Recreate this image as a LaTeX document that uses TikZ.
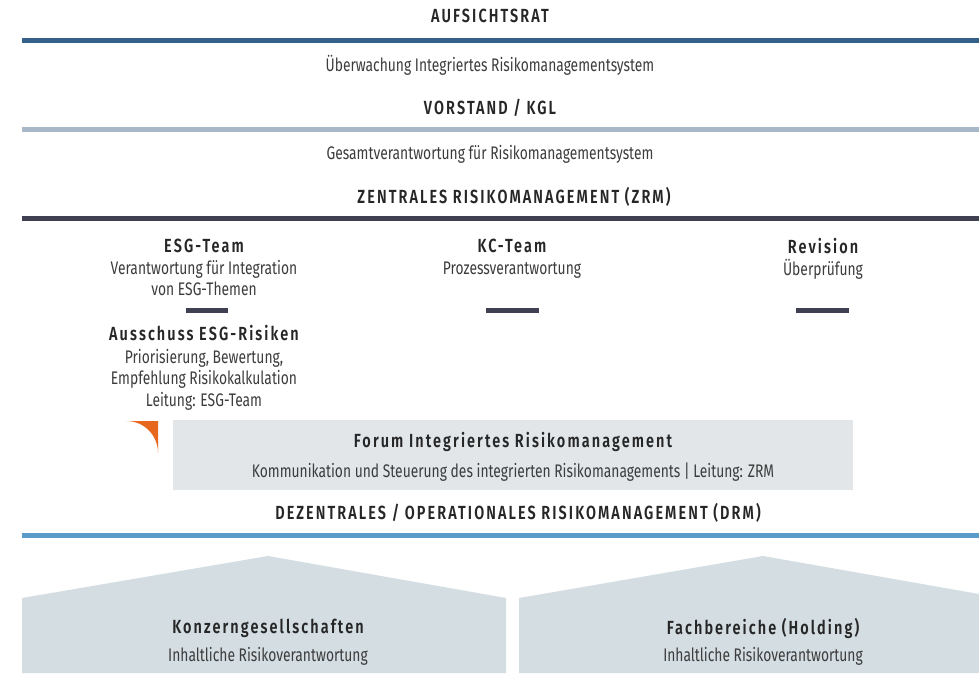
\documentclass[tikz,border=0pt]{standalone}
\usepackage{fontspec}
\setmainfont[FakeStretch=0.76,BoldFont={Fira Sans SemiBold}]{Fira Sans}
\usetikzlibrary{positioning}

\definecolor{aufblue}{HTML}{336189}
\definecolor{vorgrey}{HTML}{A9B8C6}
\definecolor{zrmdark}{HTML}{3F4152}
\definecolor{drmblue}{HTML}{5B9BC9}
\definecolor{forumgrey}{HTML}{E2E6E9}
\definecolor{housegrey}{HTML}{D3DDE2}
\definecolor{esgorange}{HTML}{E8671F}
\definecolor{txtdark}{HTML}{262626}
\definecolor{txtgrey}{HTML}{3C3C3C}

\tikzset{
  head/.style={font=\fontsize{19}{21}\selectfont\bfseries\addfontfeature{LetterSpace=11}, text=txtdark, inner sep=0pt},
  body/.style={font=\fontsize{18.2}{21.5}\selectfont, text=txtgrey, inner sep=0pt, align=center},
  sub/.style={body, below=#1}
}

\begin{document}
\begin{tikzpicture}[x=1pt,y=-1pt]
      \useasboundingbox (0,0) rectangle (979,673);
      % Aufsichtsrat
      \node[head] (auf) at (490,16) {AUFSICHTSRAT};
      \draw[line width=5pt,aufblue] (22,40) -- (979,40);
      \node[body] (aufsub) at (490,65) {Überwachung Integriertes Risikomanagementsystem};
      % Vorstand
      \node[head] (vor) at (490,108) {VORSTAND / KGL};
      \draw[line width=5pt,vorgrey] (22,129) -- (979,129);
      \node[body] (vorsub) at (490,154) {Gesamtverantwortung für Risikomanagementsystem};
      % ZRM
      \node[head] (zrm) at (514,197) {ZENTRALES RISIKOMANAGEMENT (ZRM)};
      \draw[line width=5pt,zrmdark] (22,218) -- (979,218);
      % Teams
      \node[head] (esg) at (204,246) {ESG-Team};
      \node[sub=7pt of esg] (esgsub) {Verantwortung für Integration\\von ESG-Themen};
      \fill[zrmdark] (186,308) rectangle (228,313);
      \node[head] (aus) at (204,333) {Ausschuss ESG-Risiken};
      \node[sub=8pt of aus] (aussub) {Priorisierung, Bewertung,\\Empfehlung Risikokalkulation\\Leitung: ESG-Team};
      \node[head] (kc) at (512,246) {KC-Team};
      \node[sub=9pt of kc] (kcsub) {Prozessverantwortung};
      \fill[zrmdark] (486,308) rectangle (539,313);
      \node[head] (rev) at (823,246) {Revision};
      \node[sub=5pt of rev] (revsub) {Überprüfung};
      \fill[zrmdark] (796,308) rectangle (849,313);
      % Orange Ecke
      \fill[esgorange] (126,421) -- (158,421) -- (158,453) .. controls (158,436) and (145,421) .. (126,421) -- cycle;
      % Forum
      \fill[forumgrey] (173,420) rectangle (853,490);
      \node[head] (forum) at (513,442) {Forum Integriertes Risikomanagement};
      \node[body] (forumsub) at (513,472) {Kommunikation und Steuerung des integrierten Risikomanagements | Leitung: ZRM};
      % DRM
      \node[head] (drm) at (518,513) {DEZENTRALES / OPERATIONALES RISIKOMANAGEMENT (DRM)};
      \draw[line width=5pt,drmblue] (22,535) -- (979,535);
      % Haeuser
      \fill[housegrey] (22,673) -- (22,598) -- (268,556) -- (506,598) -- (506,673) -- cycle;
      \fill[housegrey] (519,673) -- (519,598) -- (763,556) -- (979,594) -- (979,673) -- cycle;
      \node[head] (konz) at (268,628) {Konzerngesellschaften};
      \node[body] (konzsub) at (268,656) {Inhaltliche Risikoverantwortung};
      \node[head] (fach) at (763,628) {Fachbereiche (Holding)};
      \node[body] (fachsub) at (763,656) {Inhaltliche Risikoverantwortung};
\end{tikzpicture}
\end{document}
